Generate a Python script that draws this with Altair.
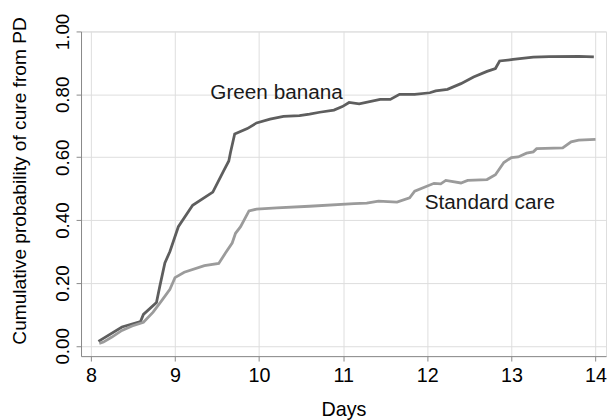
import altair as alt
import pandas as pd

series_names = ["Green banana", "Standard care"]
series_colors = ["#5e5e5e", "#9b9b9b"]

gb_days = [8.09, 8.37, 8.59, 8.625, 8.78, 8.82, 8.88, 8.94, 9.04, 9.21, 9.45, 9.58, 9.64, 9.66,
           9.71, 9.86, 9.97, 10.13, 10.29, 10.48, 10.60, 10.72, 10.89, 10.99, 11.07, 11.19,
           11.44, 11.56, 11.67, 11.85, 12.03, 12.10, 12.24, 12.40, 12.55, 12.71, 12.81, 12.86,
           13.02, 13.26, 13.45, 13.80, 13.98]
gb_prob = [0.014, 0.060, 0.077, 0.100, 0.138, 0.190, 0.264, 0.300, 0.379, 0.447, 0.489, 0.557,
           0.588, 0.615, 0.674, 0.691, 0.709, 0.721, 0.730, 0.732, 0.737, 0.743, 0.750, 0.761,
           0.774, 0.770, 0.784, 0.784, 0.800, 0.800, 0.805, 0.811, 0.816, 0.834, 0.855, 0.873,
           0.882, 0.906, 0.911, 0.918, 0.920, 0.921, 0.919]

sc_days = [8.10, 8.15, 8.25, 8.37, 8.49, 8.625, 8.74, 8.84, 8.94, 9.00, 9.11, 9.35, 9.52, 9.60,
           9.68, 9.72, 9.78, 9.88, 9.97, 10.21, 10.60, 11.13, 11.28, 11.42, 11.64, 11.79, 11.85,
           12.08, 12.16, 12.22, 12.40, 12.48, 12.71, 12.81, 12.91, 13.00, 13.08, 13.18, 13.26,
           13.30, 13.61, 13.71, 13.80, 14.00]
sc_prob = [0.008, 0.012, 0.028, 0.049, 0.063, 0.075, 0.107, 0.143, 0.180, 0.217, 0.234, 0.255,
           0.262, 0.295, 0.327, 0.358, 0.379, 0.429, 0.435, 0.439, 0.444, 0.452, 0.454, 0.460,
           0.457, 0.471, 0.492, 0.517, 0.515, 0.526, 0.518, 0.526, 0.529, 0.544, 0.583, 0.599,
           0.601, 0.613, 0.617, 0.627, 0.630, 0.649, 0.654, 0.657]

label_days = [9.42, 11.97]
label_probs = [0.803, 0.454]

x_ticks = [8, 9, 10, 11, 12, 13, 14]
y_ticks = [0.0, 0.2, 0.4, 0.6, 0.8, 1.0]
x_domain = [7.883, 14.125]
y_domain = [-0.0327, 1.0]

rows = []
for i, (d, p) in enumerate(zip(gb_days, gb_prob)):
    rows.append({"series": series_names[0], "day": d, "prob": p, "idx": i})
for i, (d, p) in enumerate(zip(sc_days, sc_prob)):
    rows.append({"series": series_names[1], "day": d, "prob": p, "idx": i})
df = pd.DataFrame(rows)

labels_df = pd.DataFrame({"day": label_days, "prob": label_probs, "text": series_names})

FONT = "Liberation Sans"

xenc = alt.X("day:Q", scale=alt.Scale(domain=x_domain, nice=False, zero=False),
             axis=alt.Axis(values=x_ticks, format="d", title="Days",
                           titleX=266, titleY=60, titleBaseline="alphabetic",
                           titleFontSize=20, titleFontWeight="normal",
                           labelFontSize=20, labelPadding=5))
yenc = alt.Y("prob:Q", scale=alt.Scale(domain=y_domain, nice=False, zero=False),
             axis=alt.Axis(values=y_ticks, format=".2f",
                           title="Cumulative probability of cure from PD",
                           titleAngle=270, titleX=-56, titleY=151, titleAlign="center",
                           titleBaseline="alphabetic", titleFontSize=19.4,
                           titleFontWeight="normal",
                           labelAngle=270, labelAlign="center", labelBaseline="alphabetic",
                           labelFontSize=19, labelPadding=8))

lines = alt.Chart(df).mark_line(strokeWidth=2.8, interpolate="linear").encode(
    x=xenc,
    y=yenc,
    color=alt.Color("series:N", scale=alt.Scale(domain=series_names, range=series_colors),
                    legend=None),
    order=alt.Order("idx:Q"),
)

texts = alt.Chart(labels_df).mark_text(
    align="left", baseline="middle", fontSize=21, font=FONT, color="#1a1a1a"
).encode(
    x=alt.X("day:Q"),
    y=alt.Y("prob:Q"),
    text="text:N",
)

chart = alt.layer(lines, texts).properties(
    width=532,
    height=329,
    autosize=alt.AutoSizeParams(type="none"),
    padding={"left": 74, "top": 21, "right": 2, "bottom": 64},
).configure_view(stroke=None).configure_axis(
    grid=False,
    domainColor="#333333",
    domainWidth=1.2,
    tickColor="#333333",
    tickWidth=1.2,
    tickSize=6,
    labelColor="#1a1a1a",
    titleColor="#1a1a1a",
    labelFont=FONT,
    titleFont=FONT,
).configure(background="white")

chart.save("out.html", embed_options={"renderer": "svg", "actions": False})
